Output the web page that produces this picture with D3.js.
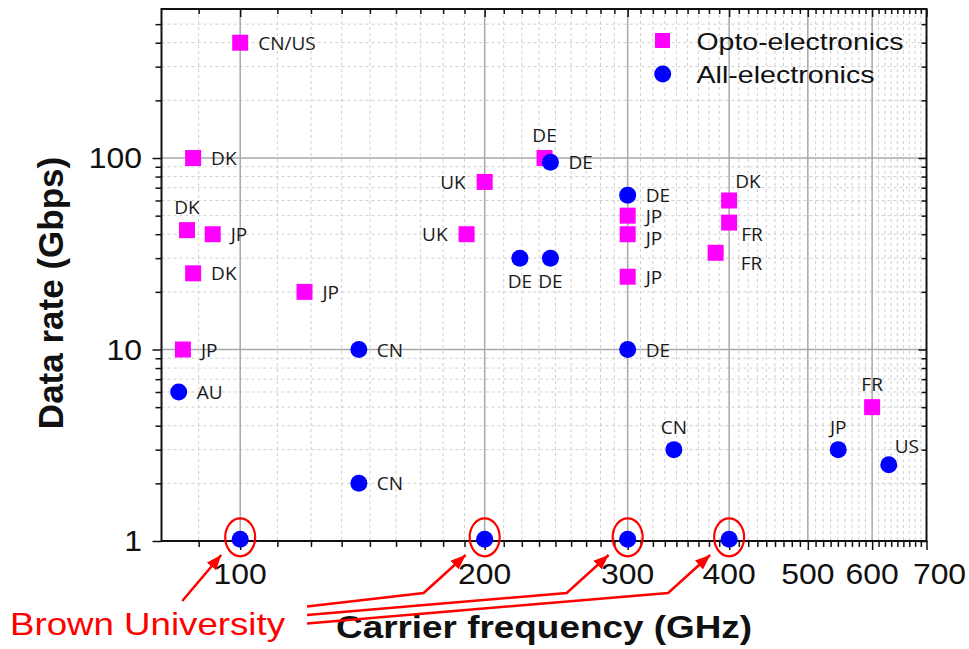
<!DOCTYPE html>
<html>
<head>
<meta charset="utf-8">
<script src="https://cdn.jsdelivr.net/npm/d3@7"></script>
<style>
html,body{margin:0;padding:0;background:#fff;}
svg{display:block;}
</style>
</head>
<body>
<svg id="chart" width="969" height="649"></svg>
<script>
// ---------- DATA ----------
const optoFreq  = [100, 87.5, 86, 92.5, 87.5, 120, 85, 200, 190, 237, 300, 300, 300, 400, 400, 385, 600];
const optoRate  = [400, 100, 42, 40, 25, 20, 10, 75, 40, 100, 50, 40, 24, 60, 46, 32, 5];
const optoLabel = ["CN/US","DK","DK","JP","DK","JP","JP","UK","UK","DE","JP","JP","JP","DK","FR","FR","FR"];
const optoLabelPos = ["r","r","a","r","r","r","r","l","l","a","r","rl","r","ar","br","rb","a"];

const elecFreq  = [84, 140, 140, 241, 221, 241, 300, 300, 342, 545, 629];
const elecRate  = [6, 10, 2, 95, 30, 30, 64, 10, 3, 3, 2.5];
const elecLabel = ["AU","CN","CN","DE","DE","DE","DE","DE","CN","JP","US"];
const elecLabelPos = ["r","r","r","r","b","b","r","r","a","a","ar"];

const brownFreq = [100, 200, 300, 400];
const brownRate = [1.02, 1.02, 1.02, 1.02];

const xMajorTicks = [100, 200, 300, 400, 500, 600, 700];
const yMajorTicks = [1, 10, 100];
const legendLabels = ["Opto-electronics", "All-electronics"];
const xTitle = "Carrier frequency (GHz)";
const yTitle = "Data rate (Gbps)";
const annotationText = "Brown University";

// ---------- LAYOUT ----------
const W = 969, H = 649;
const pL = 161.5, pR = 926.5, pT = 9, pB = 541;
const svg = d3.select("#chart");
svg.append("rect").attr("width", W).attr("height", H).attr("fill", "#fff");

const x = d3.scaleLog().domain([80, 700]).range([pL, pR]);
const y = d3.scaleLog().domain([1, 600]).range([pB, pT]);

// minor ticks: x -> 8 linear subdivisions between 100-step majors; y -> standard log minors
const xMinor = [];
for (let k = 0; k < 7; k++) for (let j = 1; j <= 8; j++) {
  const v = k * 100 + j * 100 / 9;
  if (v >= 80 && v <= 700) xMinor.push(v);
}
const yMinor = y.ticks().filter(v => yMajorTicks.indexOf(v) < 0 && v > 1 && v < 600);

const g = svg.append("g");

// ---------- GRID ----------
const grid = g.append("g");
grid.selectAll(".xmin").data(xMinor).join("line")
  .attr("x1", d => x(d)).attr("x2", d => x(d)).attr("y1", pT).attr("y2", pB)
  .attr("stroke", "#cfcfcf").attr("stroke-width", 1).attr("stroke-dasharray", "3,3");
grid.selectAll(".ymin").data(yMinor).join("line")
  .attr("y1", d => y(d)).attr("y2", d => y(d)).attr("x1", pL).attr("x2", pR)
  .attr("stroke", "#cfcfcf").attr("stroke-width", 1).attr("stroke-dasharray", "3,3");
grid.selectAll(".xmaj").data(xMajorTicks.filter(v => v < 700)).join("line")
  .attr("x1", d => x(d)).attr("x2", d => x(d)).attr("y1", pT).attr("y2", pB)
  .attr("stroke", "#a8a8a8").attr("stroke-width", 1.5);
grid.selectAll(".ymaj").data(yMajorTicks.filter(v => v > 1)).join("line")
  .attr("y1", d => y(d)).attr("y2", d => y(d)).attr("x1", pL).attr("x2", pR)
  .attr("stroke", "#a8a8a8").attr("stroke-width", 1.5);

// ---------- AXES (D3 axes, mirrored) ----------
function styleAxis(sel) {
  sel.select(".domain").remove();
  sel.selectAll(".tick line").attr("stroke", "#111").attr("stroke-width", 1.5);
  sel.selectAll(".tick text").remove();
}
function addAxis(axisFn, scale, vals, size, tx, ty) {
  const a = g.append("g").attr("transform", `translate(${tx},${ty})`)
    .call(axisFn(scale).tickValues(vals).tickSize(size).tickFormat(""));
  styleAxis(a);
}
addAxis(d3.axisBottom, x, xMajorTicks, 9, 0, pB);
addAxis(d3.axisBottom, x, xMinor, 6, 0, pB);
addAxis(d3.axisBottom, x, xMajorTicks, 8, 0, pT);
addAxis(d3.axisBottom, x, xMinor, 5, 0, pT);
addAxis(d3.axisLeft, y, yMajorTicks, 9, pL, 0);
addAxis(d3.axisLeft, y, yMinor, 6, pL, 0);
addAxis(d3.axisLeft, y, yMajorTicks, 8, pR, 0);
addAxis(d3.axisLeft, y, yMinor, 5, pR, 0);

// frame
g.append("rect").attr("x", pL).attr("y", pT).attr("width", pR - pL).attr("height", pB - pT)
  .attr("fill", "none").attr("stroke", "#111").attr("stroke-width", 2);

// tick labels
const tickFont = "Liberation Sans, Arial, sans-serif";
g.selectAll(".xl").data(xMajorTicks).join("text")
  .attr("transform", d => `translate(${x(d) + (d === 700 ? 13 : 0)},584) scale(1.1,1)`)
  .attr("text-anchor", "middle").attr("font-family", tickFont).attr("font-size", 29)
  .attr("fill", "#111").text(d => d);
g.selectAll(".yl").data(yMajorTicks).join("text")
  .attr("transform", d => `translate(142,${y(d) + 10}) scale(1.1,1)`)
  .attr("text-anchor", "end").attr("font-family", tickFont).attr("font-size", 29)
  .attr("fill", "#111").text(d => d);

// axis titles
g.append("text").attr("transform", "translate(63,293) rotate(-90)")
  .attr("text-anchor", "middle").attr("font-family", tickFont).attr("font-weight", "bold")
  .attr("font-size", 35).attr("fill", "#111").text(yTitle);
g.append("text").attr("x", 336).attr("y", 638)
  .attr("font-family", tickFont).attr("font-weight", "bold").attr("font-size", 32)
  .attr("textLength", 416).attr("lengthAdjust", "spacingAndGlyphs")
  .attr("fill", "#111").text(xTitle);

// ---------- POINTS ----------
const SQ = 16, R = 8.5;
const opto = optoFreq.map((f, i) => ({f, r: optoRate[i], label: optoLabel[i], pos: optoLabelPos[i]}));
const elec = elecFreq.map((f, i) => ({f, r: elecRate[i], label: elecLabel[i], pos: elecLabelPos[i]}));
const brown = brownFreq.map((f, i) => ({f, r: brownRate[i]}));

g.append("g").selectAll("rect").data(opto).join("rect")
  .attr("x", d => x(d.f) - SQ / 2).attr("y", d => y(d.r) - SQ / 2)
  .attr("width", SQ).attr("height", SQ).attr("fill", "#ff00ff");
g.append("g").selectAll("circle").data(elec.concat(brown)).join("circle")
  .attr("cx", d => x(d.f)).attr("cy", d => y(d.r)).attr("r", R).attr("fill", "#0000ff");

// labels
const off = {
  r:  {a: "start",  dx: 18,  dy: 7},
  rl: {a: "start",  dx: 18,  dy: 11},
  l:  {a: "end",    dx: -19, dy: 7},
  a:  {a: "middle", dx: 0,   dy: -16},
  b:  {a: "middle", dx: 0,   dy: 30},
  ar: {a: "start",  dx: 6,   dy: -12},
  br: {a: "start",  dx: 12,  dy: 18},
  rb: {a: "start",  dx: 25,  dy: 17}
};
g.append("g").selectAll("text").data(opto.concat(elec)).join("text")
  .attr("x", d => x(d.f) + off[d.pos].dx).attr("y", d => y(d.r) + off[d.pos].dy)
  .attr("text-anchor", d => off[d.pos].a)
  .attr("font-family", "Open Sans, sans-serif").attr("font-size", 19)
  .attr("fill", "#1a1a1a").text(d => d.label);

// ---------- LEGEND ----------
const lg = g.append("g");
lg.append("rect").attr("x", 655).attr("y", 33).attr("width", 15).attr("height", 15).attr("fill", "#ff00ff");
lg.append("circle").attr("cx", 662.7).attr("cy", 74).attr("r", 8.5).attr("fill", "#0000ff");
lg.append("text").attr("x", 696.5).attr("y", 50).attr("font-family", tickFont).attr("font-size", 24)
  .attr("textLength", 207).attr("lengthAdjust", "spacingAndGlyphs").attr("fill", "#111").text(legendLabels[0]);
lg.append("text").attr("x", 696.5).attr("y", 83).attr("font-family", tickFont).attr("font-size", 24)
  .attr("textLength", 178).attr("lengthAdjust", "spacingAndGlyphs").attr("fill", "#111").text(legendLabels[1]);

// ---------- ANNOTATION ----------
const red = "#ff0000";
svg.append("defs").append("marker").attr("id", "ah")
  .attr("markerUnits", "userSpaceOnUse").attr("markerWidth", 16).attr("markerHeight", 12)
  .attr("refX", 15).attr("refY", 6).attr("orient", "auto")
  .append("path").attr("d", "M0,0 L15,6 L0,12 Z").attr("fill", red);

const an = g.append("g");
an.selectAll("ellipse").data(brown).join("ellipse")
  .attr("cx", d => x(d.f)).attr("cy", d => y(d.r) - 2).attr("rx", 15).attr("ry", 19)
  .attr("fill", "none").attr("stroke", red).attr("stroke-width", 2.2);

brown.forEach((d, i) => {
  const tip = [x(d.f) - 19, y(1) + 14];
  let pts;
  if (i === 0) {
    pts = [[tip[0] - 39, tip[1] + 46], tip];
  } else {
    const bend = [tip[0] - 42, tip[1] + 38];
    pts = [[307, 598 + i * 8.5], bend, tip];
  }
  an.append("path").attr("d", d3.line()(pts))
    .attr("fill", "none").attr("stroke", red).attr("stroke-width", 2.5)
    .attr("marker-end", "url(#ah)");
});

an.append("text").attr("x", 10).attr("y", 635).attr("font-family", tickFont).attr("font-size", 32)
  .attr("textLength", 275).attr("lengthAdjust", "spacingAndGlyphs").attr("fill", red).text(annotationText);
</script>
</body>
</html>
